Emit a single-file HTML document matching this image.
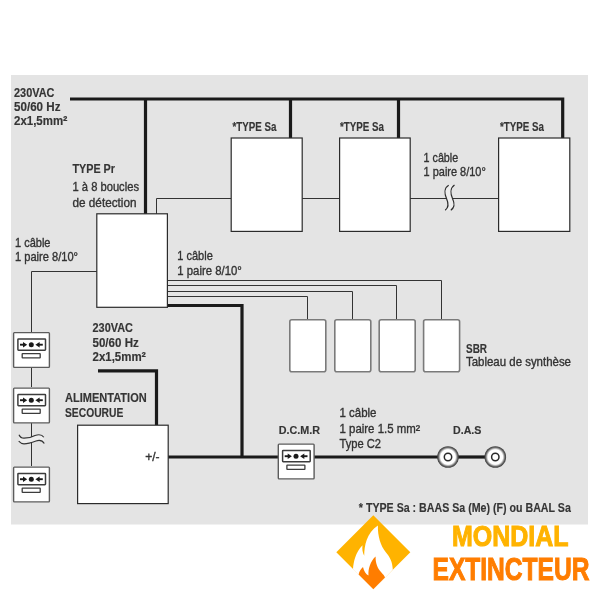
<!DOCTYPE html>
<html><head><meta charset="utf-8">
<style>
html,body{margin:0;padding:0;background:#fff;width:600px;height:600px;overflow:hidden}
svg{display:block;will-change:transform}
text{font-family:"Liberation Sans",sans-serif;fill:#353535}
.b{font-weight:bold}
.r{font-weight:normal}
.r text{fill:#333;stroke:#333;stroke-width:0.35}
.b text{stroke:#353535;stroke-width:0.15}
</style></head><body>
<svg width="600" height="600" viewBox="0 0 600 600">
<defs>
<radialGradient id="rg" cx="0" cy="0" r="10.8" gradientUnits="userSpaceOnUse">
  <stop offset="0" stop-color="#fff"/>
  <stop offset="0.68" stop-color="#fff"/>
  <stop offset="0.77" stop-color="#c4c4c4"/>
  <stop offset="0.88" stop-color="#6a6a6a"/>
  <stop offset="1" stop-color="#3a3a3a"/>
</radialGradient>
</defs>
<rect x="11" y="75" width="577" height="449.5" fill="#e4e4e4"/>

<!-- thick power lines -->
<g stroke="#1a1a1a" stroke-width="3.2" fill="none">
  <path d="M70,99 H562.7 V138"/>
  <path d="M145.5,99 V214"/>
  <path d="M290.5,99 V138"/>
  <path d="M398.5,99 V138"/>
  <path d="M167,305.5 H242 V457"/>
  <path d="M168,457 H278"/>
  <path d="M314,457 H438"/>
  <path d="M458,457 H485"/>
  <path d="M98,370.8 H156.5 V425"/>
</g>

<!-- thin lines -->
<g stroke="#333" stroke-width="1" fill="none">
  <path d="M156.5,214 V198.5 H231"/>
  <path d="M302,198.5 H340"/>
  <path d="M410,198.5 H447"/><path d="M452,198.5 H499"/>
  <path d="M97,271.5 H31.5 V332"/>
  <path d="M31.5,367 V387"/>
  <path d="M31.5,423 V437"/><path d="M31.5,442 V466"/>
  <path d="M167,280.5 H441.5 V320"/>
  <path d="M167,285.5 H396.5 V320"/>
  <path d="M167,291.5 H352.5 V320"/>
  <path d="M167,296.5 H307.5 V320"/>
</g>

<!-- squiggles -->
<path d="M448.7,185.3 C444,188 444.5,194 446.5,198.5 C448.5,203 449.5,207 445.2,210.3 L450.8,210.3 C455.5,207 454.5,203 452.5,198.5 C450.5,194 450,188 454.5,185 Z" fill="#ededed"/>
<g stroke="#2a2a2a" stroke-width="1.2" fill="none">
  <path d="M448.7,185.3 C444,188 444.5,194 446.5,198.5 C448.5,203 449.5,207 445.2,210.3"/>
  <path d="M454.5,185 C450,188 450.5,194 452.5,198.5 C454.5,203 455.5,207 450.8,210.3"/>
</g>
<path d="M19,434.7 C20,437 21.5,438.2 24,438.2 C28,438.2 32,437.2 35,435.5 C38,434.5 42,434.5 43.8,437.3 L44.3,443.5 C42.5,440.5 39,440 36,441 C32,442.5 28,443.8 24,443.8 C21.5,443.8 20,442.5 18.7,441.1 Z" fill="#eeeeee"/>
<g stroke="#333" stroke-width="1.2" fill="none">
  <path d="M19,434.7 C20,437 21.5,438.2 24,438.2 C28,438.2 32,437.2 35,435.5 C38,434.5 42,434.5 43.8,437.3"/>
  <path d="M18.7,441.1 C20,442.5 21.5,443.8 24,443.8 C28,443.8 32,442.5 36,441 C39,440 42.5,440.5 44.3,443.5"/>
</g>
<!-- boxes -->
<g fill="#fff" stroke="#2b2b2b" stroke-width="1.2">
  <rect x="231.2" y="138" width="71" height="93.4"/>
  <rect x="339.6" y="138" width="70.6" height="93.4"/>
  <rect x="498.6" y="138" width="71.2" height="93.4"/>
  <rect x="96.8" y="213.8" width="70.6" height="93.5"/>
  <rect x="77.6" y="425.2" width="90.6" height="78.4"/>
</g>
<g fill="#fff" stroke="#7a7a7a" stroke-width="1.6">
  <rect x="289.8" y="319.8" width="36" height="52" rx="2"/>
  <rect x="334.8" y="319.8" width="36" height="52" rx="2"/>
  <rect x="379.2" y="319.8" width="36" height="52" rx="2"/>
  <rect x="423.6" y="319.8" width="36" height="52" rx="2"/>
</g>

<g transform="translate(13,332)">
  <rect x="0.6" y="0.6" width="35.8" height="34.8" rx="0.8" fill="#fff" stroke="#5c5c5c" stroke-width="1.4"/>
  <rect x="4.9" y="7" width="27.6" height="11.2" rx="0.6" fill="#fff" stroke="#3c3c3c" stroke-width="1.5"/>
  <path d="M7,12.7 H12" stroke="#1a1a1a" stroke-width="1.9"/>
  <path d="M10,9.9 L14.2,12.7 L10,15.5 Z" fill="#1a1a1a"/>
  <circle cx="18.3" cy="12.7" r="2.5" fill="#1a1a1a"/>
  <path d="M24.6,12.7 H29.8" stroke="#1a1a1a" stroke-width="1.9"/>
  <path d="M26.6,9.9 L22.4,12.7 L26.6,15.5 Z" fill="#1a1a1a"/>
  <rect x="9.2" y="21.6" width="18" height="4.2" rx="0.4" fill="#fff" stroke="#3c3c3c" stroke-width="1.3"/>
</g>
<g transform="translate(13,387.5)">
  <rect x="0.6" y="0.6" width="35.8" height="34.8" rx="0.8" fill="#fff" stroke="#5c5c5c" stroke-width="1.4"/>
  <rect x="4.9" y="7" width="27.6" height="11.2" rx="0.6" fill="#fff" stroke="#3c3c3c" stroke-width="1.5"/>
  <path d="M7,12.7 H12" stroke="#1a1a1a" stroke-width="1.9"/>
  <path d="M10,9.9 L14.2,12.7 L10,15.5 Z" fill="#1a1a1a"/>
  <circle cx="18.3" cy="12.7" r="2.5" fill="#1a1a1a"/>
  <path d="M24.6,12.7 H29.8" stroke="#1a1a1a" stroke-width="1.9"/>
  <path d="M26.6,9.9 L22.4,12.7 L26.6,15.5 Z" fill="#1a1a1a"/>
  <rect x="9.2" y="21.6" width="18" height="4.2" rx="0.4" fill="#fff" stroke="#3c3c3c" stroke-width="1.3"/>
</g>
<g transform="translate(13,466.5)">
  <rect x="0.6" y="0.6" width="35.8" height="34.8" rx="0.8" fill="#fff" stroke="#5c5c5c" stroke-width="1.4"/>
  <rect x="4.9" y="7" width="27.6" height="11.2" rx="0.6" fill="#fff" stroke="#3c3c3c" stroke-width="1.5"/>
  <path d="M7,12.7 H12" stroke="#1a1a1a" stroke-width="1.9"/>
  <path d="M10,9.9 L14.2,12.7 L10,15.5 Z" fill="#1a1a1a"/>
  <circle cx="18.3" cy="12.7" r="2.5" fill="#1a1a1a"/>
  <path d="M24.6,12.7 H29.8" stroke="#1a1a1a" stroke-width="1.9"/>
  <path d="M26.6,9.9 L22.4,12.7 L26.6,15.5 Z" fill="#1a1a1a"/>
  <rect x="9.2" y="21.6" width="18" height="4.2" rx="0.4" fill="#fff" stroke="#3c3c3c" stroke-width="1.3"/>
</g>
<g transform="translate(277.7,443.5)">
  <rect x="0.6" y="0.6" width="35.8" height="34.8" rx="0.8" fill="#fff" stroke="#5c5c5c" stroke-width="1.4"/>
  <rect x="4.9" y="7" width="27.6" height="11.2" rx="0.6" fill="#fff" stroke="#3c3c3c" stroke-width="1.5"/>
  <path d="M7,12.7 H12" stroke="#1a1a1a" stroke-width="1.9"/>
  <path d="M10,9.9 L14.2,12.7 L10,15.5 Z" fill="#1a1a1a"/>
  <circle cx="18.3" cy="12.7" r="2.5" fill="#1a1a1a"/>
  <path d="M24.6,12.7 H29.8" stroke="#1a1a1a" stroke-width="1.9"/>
  <path d="M26.6,9.9 L22.4,12.7 L26.6,15.5 Z" fill="#1a1a1a"/>
  <rect x="9.2" y="21.6" width="18" height="4.2" rx="0.4" fill="#fff" stroke="#3c3c3c" stroke-width="1.3"/>
</g>
<g transform="translate(448,457)">
  <circle cx="0" cy="0" r="10.8" fill="url(#rg)"/>
  <circle cx="0" cy="0" r="3.7" fill="#fff" stroke="#2a2a2a" stroke-width="1.5"/>
</g>
<g transform="translate(495.3,457)">
  <circle cx="0" cy="0" r="10.8" fill="url(#rg)"/>
  <circle cx="0" cy="0" r="3.7" fill="#fff" stroke="#2a2a2a" stroke-width="1.5"/>
</g>

<!-- text -->
<g class="b" font-size="12.2">
  <text x="14" y="97" textLength="40.5" lengthAdjust="spacingAndGlyphs">230VAC</text>
  <text x="14" y="110.5" textLength="46.5" lengthAdjust="spacingAndGlyphs">50/60 Hz</text>
  <text x="14" y="124.5" textLength="53.5" lengthAdjust="spacingAndGlyphs">2x1,5mm<tspan font-size="14" dy="1.3">²</tspan></text>
  <text x="232.5" y="131" textLength="44" lengthAdjust="spacingAndGlyphs">*TYPE Sa</text>
  <text x="340" y="131" textLength="44" lengthAdjust="spacingAndGlyphs">*TYPE Sa</text>
  <text x="500" y="131" textLength="44" lengthAdjust="spacingAndGlyphs">*TYPE Sa</text>
  <text x="72.5" y="173" textLength="42.5" lengthAdjust="spacingAndGlyphs">TYPE Pr</text>
  <text x="466" y="353" textLength="21" lengthAdjust="spacingAndGlyphs">SBR</text>
  <text x="92.5" y="331.7" textLength="40.5" lengthAdjust="spacingAndGlyphs">230VAC</text>
  <text x="92.5" y="346.7" textLength="46.3" lengthAdjust="spacingAndGlyphs">50/60 Hz</text>
  <text x="92.5" y="360.7" textLength="53.5" lengthAdjust="spacingAndGlyphs">2x1,5mm<tspan font-size="14" dy="1.3">²</tspan></text>
  <text x="65" y="402.3" textLength="81.7" lengthAdjust="spacingAndGlyphs">ALIMENTATION</text>
  <text x="65" y="416.7" textLength="58.3" lengthAdjust="spacingAndGlyphs">SECOURUE</text>
  <text x="278.7" y="434" font-size="11.5" textLength="41.3" lengthAdjust="spacingAndGlyphs">D.C.M.R</text>
  <text x="453" y="433.8" font-size="11.2" textLength="28.4" lengthAdjust="spacingAndGlyphs">D.A.S</text>
  <text x="358.8" y="512" textLength="212" lengthAdjust="spacingAndGlyphs">* TYPE Sa : BAAS Sa (Me) (F) ou BAAL Sa</text>
</g>
<g class="r" font-size="12.2">
  <text x="72.5" y="191" textLength="66.5" lengthAdjust="spacingAndGlyphs">1 à 8 boucles</text>
  <text x="72.5" y="206.5" textLength="64" lengthAdjust="spacingAndGlyphs">de détection</text>
  <text x="15" y="246.7" textLength="35.5" lengthAdjust="spacingAndGlyphs">1 câble</text>
  <text x="15" y="260.8" textLength="63" lengthAdjust="spacingAndGlyphs">1 paire 8/10°</text>
  <text x="177.3" y="260.3" textLength="35.5" lengthAdjust="spacingAndGlyphs">1 câble</text>
  <text x="177.3" y="275.2" textLength="64.5" lengthAdjust="spacingAndGlyphs">1 paire 8/10°</text>
  <text x="423.6" y="161.8" textLength="34.6" lengthAdjust="spacingAndGlyphs">1 câble</text>
  <text x="423.6" y="175.6" textLength="62.2" lengthAdjust="spacingAndGlyphs">1 paire 8/10°</text>
  <text x="466" y="366.3" textLength="105" lengthAdjust="spacingAndGlyphs">Tableau de synthèse</text>
  <text x="145.2" y="461" textLength="14.4" lengthAdjust="spacingAndGlyphs">+/-</text>
  <text x="339.5" y="417.4" textLength="37" lengthAdjust="spacingAndGlyphs">1 câble</text>
  <text x="339.5" y="433.2" textLength="80.7" lengthAdjust="spacingAndGlyphs">1 paire 1.5 mm<tspan font-size="14" dy="1.3">²</tspan></text>
  <text x="339.5" y="447.5" textLength="41.5" lengthAdjust="spacingAndGlyphs">Type C2</text>
</g>

<!-- logo -->
<path d="M373.3,515.3 L410.3,552.3 L373.3,589.3 L336.3,552.3 Z" fill="#ffb300"/>
<path d="M353,569.2 C353.5,562 355.5,552.5 362.5,545.3 C362,549 362.5,552.5 364.2,555.8 C364.3,546 366.5,533 377.9,525.6 C377.6,536 380.5,546 386,552.5 C390,557 392.5,562 392.8,569.8 L373.3,590 Z" fill="#fff"/>
<path d="M373.3,589.3 L358.6,574.6 C359.2,571.5 361,568.6 363,567 C363.8,571 365.8,574 368.5,575.6 C368,568.5 370.5,561 375.6,556.4 C375.4,563 377.5,568 381,572 C383,574.4 384.8,576 385,577.6 Z" fill="#ff7d00"/>
<text x="452" y="545.7" font-size="29" font-weight="bold" style="fill:#ffb300;stroke:#ffb300;stroke-width:1" textLength="116.5" lengthAdjust="spacingAndGlyphs">MONDIAL</text>
<text x="432.5" y="579.5" font-size="31" font-weight="bold" style="fill:#ff7d00;stroke:#ff7d00;stroke-width:1" textLength="157" lengthAdjust="spacingAndGlyphs">EXTINCTEUR</text>
</svg>
</body></html>
